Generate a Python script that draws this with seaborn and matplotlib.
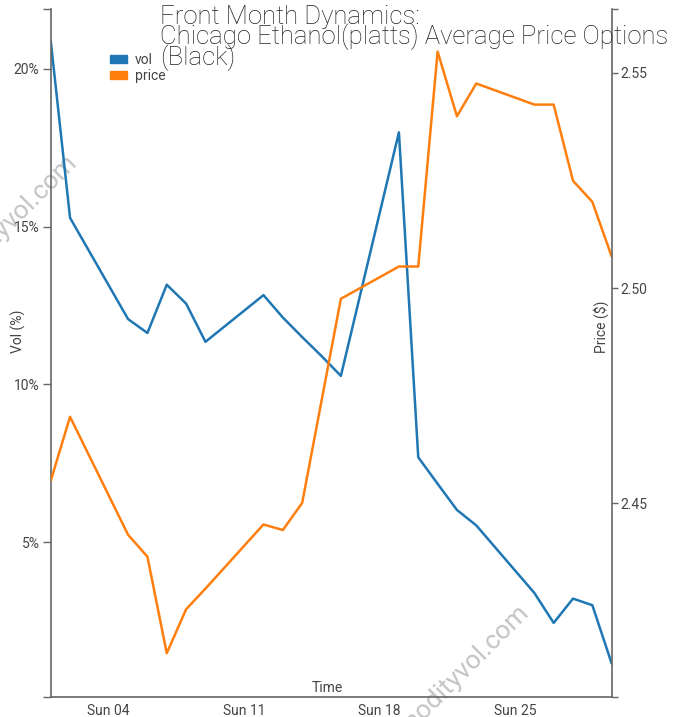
import matplotlib.pyplot as plt
import matplotlib.dates as mdates
import matplotlib.ticker as mticker
from matplotlib.patches import Patch
import seaborn as sns
import pandas as pd

# trading days, June 2023
dates = pd.bdate_range("2023-06-01", "2023-06-30")
vol = [20.9, 15.28, 12.07, 11.63, 13.16, 12.56, 11.35, 12.83, 12.12, 11.5, 10.9,
       10.27, 17.99, 7.69, 6.85, 6.02, 5.53, 3.39, 2.44, 3.21, 3.0, 1.15]
price = [2.4552, 2.4701, 2.4427, 2.4376, 2.4152, 2.4254, 2.4302, 2.4451, 2.4438,
         2.4501, 2.4738, 2.4975, 2.505, 2.505, 2.5549, 2.5399, 2.5475, 2.5426,
         2.5426, 2.5249, 2.52, 2.5073]
vol_ticks = [5, 10, 15, 20]
price_ticks = [2.45, 2.50, 2.55]
week_ticks = pd.to_datetime(["2023-06-04", "2023-06-11", "2023-06-18", "2023-06-25"])

df = pd.DataFrame({"date": dates, "vol": vol, "price": price})

sns.set_style("white")
plt.rcParams["font.family"] = ["Roboto", "DejaVu Sans"]

W, H = 692, 717
blue, orange = "#1f77b4", "#ff7f0e"
axis_col, text_col = "#666666", "#444444"


def fx(px):
    return px / W


def fy(py):
    return 1 - py / H


fig = plt.figure(figsize=(W / 100, H / 100), dpi=100)
ax = fig.add_axes([fx(50.7), fy(696.7), fx(611.7) - fx(50.7), fy(9) - fy(696.7)])
ax.set_facecolor("none")
ax2 = ax.twinx()

sns.lineplot(data=df, x="date", y="vol", ax=ax, color=blue, lw=1.8)
sns.lineplot(data=df, x="date", y="price", ax=ax2, color=orange, lw=1.8)

x0, x1 = pd.Timestamp("2023-06-01"), pd.Timestamp("2023-06-30")
ax.set_xlim(x0, x1)
ax.set_ylim(0.1, 21.9)
ax2.set_ylim(2.4051, 2.5648)

ax.set_xticks(week_ticks)
ax.xaxis.set_major_formatter(mdates.DateFormatter("Sun %d"))
ax.set_xticks([x0, x1], minor=True)
ax.set_yticks(vol_ticks)
ax.yaxis.set_major_formatter(mticker.FuncFormatter(lambda v, p: f"{v:g}%"))
ax.set_yticks([0.1, 21.9], minor=True)
ax2.set_yticks(price_ticks)
ax2.yaxis.set_major_formatter(mticker.FormatStrFormatter("%.2f"))
ax2.set_yticks([2.4051, 2.5648], minor=True)

for a in (ax, ax2):
    a.set_xlabel("")
    a.set_ylabel("")
    a.tick_params(which="both", direction="out", length=6, width=1, color=axis_col,
                  labelcolor=text_col, labelsize=10, pad=2)
    for s in a.spines.values():
        s.set_visible(False)
        s.set_color(axis_col)
        s.set_linewidth(1.2)
ax.spines["left"].set_visible(True)
ax.spines["bottom"].set_visible(True)
ax2.spines["right"].set_visible(True)
ax2.tick_params(axis="y", which="both", length=4)
ax.tick_params(axis="x", which="both", length=5, pad=0)

# axis labels, placed inside like the original
fig.text(fx(18), fy(353), "Vol (%)", rotation=90, rotation_mode="anchor",
         ha="left", va="center", fontsize=10, color=text_col)
fig.text(fx(601), fy(353), "Price ($)", rotation=90, rotation_mode="anchor",
         ha="left", va="center", fontsize=10, color=text_col)
fig.text(fx(327), fy(692), "Time", ha="center", va="baseline", fontsize=10, color=text_col)

fig.text(fx(160), fy(65), "Front Month Dynamics:\nChicago Ethanol(platts) Average Price Options\n(Black)",
         ha="left", va="baseline", fontsize=18.5, linespacing=0.72, fontweight="light",
         color="#222222", multialignment="left")

ax2.legend(handles=[Patch(color=blue, label="vol"), Patch(color=orange, label="price")],
           loc="upper left", bbox_to_anchor=(fx(110), fy(53)), bbox_transform=fig.transFigure,
           frameon=False, fontsize=10, handlelength=1.2, handleheight=0.5, handletextpad=0.6,
           labelspacing=0.12, borderpad=0, borderaxespad=0, labelcolor=text_col)

# watermarks
for ex, ey in [(78, 163), (530, 613)]:
    fig.text(fx(ex), fy(ey), "commodityvol.com", rotation=45, rotation_mode="anchor",
             ha="right", va="baseline", fontsize=19, color="#c4c4c4", zorder=-1)

fig.savefig("out.png", dpi=100)
